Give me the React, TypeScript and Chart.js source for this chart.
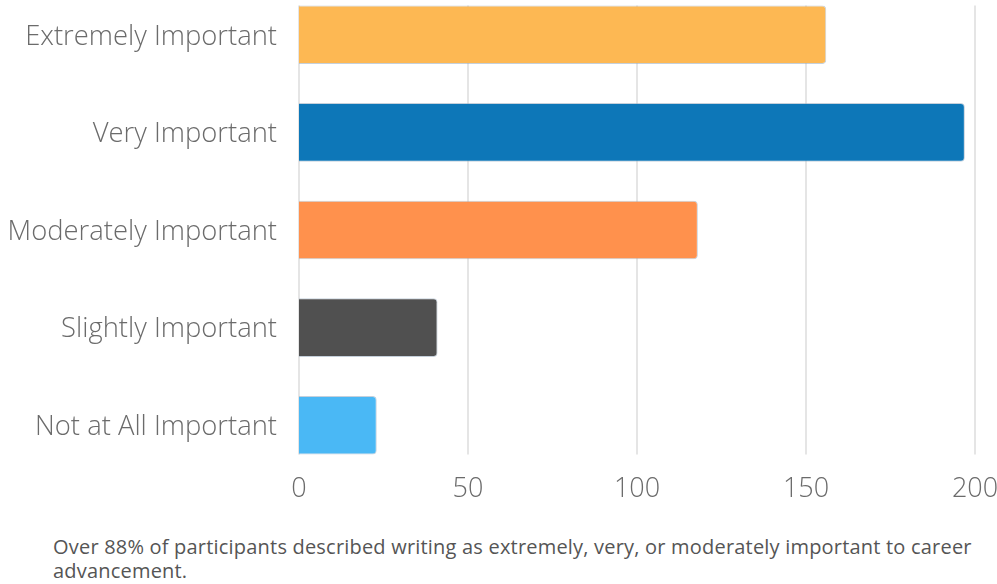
import React, { useEffect, useRef } from "react";
import { Chart, registerables } from "chart.js";

Chart.register(...registerables);

const categories = [
  "Extremely Important",
  "Very Important",
  "Moderately Important",
  "Slightly Important",
  "Not at All Important",
];
const responses = [156, 197, 118, 41, 23];
const barColors = ["#FDB853", "#0D77B8", "#FF914D", "#505050", "#4AB8F5"];
const xTicks = [0, 50, 100, 150, 200];
const footnoteLines = [
  "Over 88% of participants described writing as extremely, very, or moderately important to career",
  "advancement.",
];

// Vertical guide lines that run only from the top of the first bar to the bottom of the last one.
const barSpanGrid = {
  id: "barSpanGrid",
  beforeDatasetsDraw(chart: any) {
    const meta = chart.getDatasetMeta(0);
    const bars = meta.data;
    if (!bars.length) return;
    const first = bars[0].getProps(["y", "height"], true);
    const last = bars[bars.length - 1].getProps(["y", "height"], true);
    const top = first.y - first.height / 2;
    const bottom = last.y + last.height / 2;
    const xs = chart.scales.x;
    const ctx = chart.ctx;
    ctx.save();
    ctx.strokeStyle = "#dcdcdc";
    ctx.lineWidth = 1.5;
    for (const v of xTicks) {
      const px = xs.getPixelForValue(v);
      ctx.beginPath();
      ctx.moveTo(px, top);
      ctx.lineTo(px, bottom);
      ctx.stroke();
    }
    ctx.restore();
  },
};

export default function App() {
  const canvasRef = useRef<HTMLCanvasElement | null>(null);

  useEffect(() => {
    if (!canvasRef.current) return;
    const chart = new Chart(canvasRef.current, {
      type: "bar",
      data: {
        labels: categories,
        datasets: [
          {
            data: responses,
            backgroundColor: barColors,
            borderColor: "rgba(150,170,190,0.55)",
            borderWidth: 1,
            borderRadius: 4,
            borderSkipped: "start",
            categoryPercentage: 1,
            barPercentage: 0.6,
          },
        ],
      },
      plugins: [barSpanGrid],
      options: {
        indexAxis: "y",
        responsive: false,
        animation: false,
        devicePixelRatio: 1,
        layout: { padding: { top: 6, right: 22, bottom: 0, left: 0 } },
        plugins: {
          legend: { display: false },
          tooltip: { enabled: false },
        },
        scales: {
          x: {
            min: 0,
            max: 200,
            afterBuildTicks: (scale: any) => {
              scale.ticks = xTicks.map((v) => ({ value: v }));
            },
            afterFit: (scale: any) => {
              scale.height = 40;
              scale.paddingLeft = 0;
              scale.paddingRight = 0;
            },
            grid: { display: false, drawTicks: false },
            border: { display: false },
            ticks: {
              padding: -1,
              color: "#6b6b6b",
              font: { family: "'Open Sans'", size: 27, weight: "300" },
            },
          },
          y: {
            afterFit: (scale: any) => {
              scale.width = 299;
              scale.paddingTop = 0;
              scale.paddingBottom = 0;
            },
            grid: { display: false, drawTicks: false },
            border: { display: false },
            ticks: {
              padding: 22,
              labelOffset: 2,
              color: "#6b6b6b",
              font: { family: "'Open Sans'", size: 27.4, weight: "300" },
            },
          },
        },
      },
    });
    return () => chart.destroy();
  }, []);

  return (
    <div
      style={{
        position: "absolute",
        left: 0,
        top: 0,
        width: 997,
        height: 584,
        overflow: "hidden",
        background: "#ffffff",
      }}
    >
      <canvas
        ref={canvasRef}
        width={997}
        height={534}
        style={{ position: "absolute", left: 0, top: -20, width: 997, height: 534 }}
      />
      <div
        style={{
          position: "absolute",
          left: 53,
          top: 535,
          fontFamily: "'Open Sans', sans-serif",
          fontSize: 20,
          letterSpacing: 0.2,
          lineHeight: "24px",
          color: "#555555",
          whiteSpace: "nowrap",
        }}
      >
        {footnoteLines.map((line, i) => (
          <div key={i}>{line}</div>
        ))}
      </div>
    </div>
  );
}
